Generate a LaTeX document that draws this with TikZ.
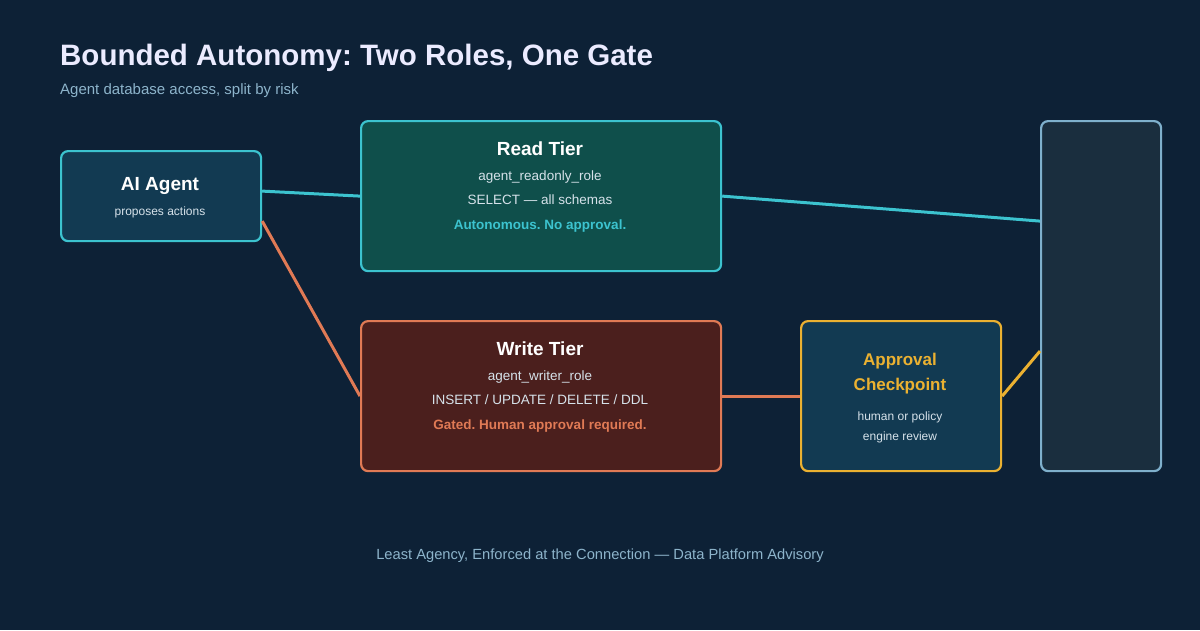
\documentclass[tikz,border=0pt]{standalone}
\usepackage{fontspec}
\setmainfont{Liberation Sans}
\frenchspacing
\begin{document}
\frenchspacing
\definecolor{bg}{HTML}{0D2136}
\definecolor{cyanl}{HTML}{3CC3CF}
\definecolor{orng}{HTML}{E07A55}
\definecolor{yel}{HTML}{EBB131}
\definecolor{boxb}{HTML}{123A52}
\definecolor{teal}{HTML}{0F4F4B}
\definecolor{wred}{HTML}{4B1F1D}
\definecolor{gray1}{HTML}{1A2E3E}
\definecolor{gstroke}{HTML}{7FB0CC}
\definecolor{sub}{HTML}{8DB4CB}
\definecolor{txt}{HTML}{D6E2EA}
\begin{tikzpicture}[x=1pt,y=-1pt,
  box/.style={draw,line width=2.2pt,rounded corners=7pt,anchor=north west,inner sep=0pt},
  ttl/.style={font=\bfseries\fontsize{19}{22}\selectfont,text=white},
  lbl/.style={font=\fontsize{13.5}{16}\selectfont,text=txt},
  sml/.style={font=\fontsize{12}{14}\selectfont,text=txt},
  conn/.style={line width=3pt}]
\fill[bg] (0,0) rectangle (1200,630);
\useasboundingbox (0,0) rectangle (1200,630);
\node[anchor=base west,font=\bfseries\fontsize{29.5}{34}\selectfont,text=white!92!blue,inner sep=0] (title) at (60,65) {Bounded Autonomy: Two Roles, One Gate};
\node[anchor=base west,font=\fontsize{15}{18}\selectfont,text=sub,inner sep=0] (subt) at (60,94) {Agent database access, split by risk};

\node[box,draw=cyanl,fill=boxb,minimum width=200,minimum height=90] (agent) at (60,150) {};
\node[box,draw=cyanl,fill=teal,minimum width=360,minimum height=150] (read) at (360,120) {};
\node[box,draw=orng,fill=wred,minimum width=360,minimum height=150] (write) at (360,320) {};
\node[box,draw=yel,fill=boxb,minimum width=200,minimum height=150] (appr) at (800,320) {};
\node[box,draw=gstroke,fill=gray1,minimum width=120,minimum height=350] (right) at (1040,120) {};

\draw[conn,cyanl] ([yshift=5]agent.east) -- (read.west);
\draw[conn,orng] ([yshift=-25]agent.east) -- (write.west);
\draw[conn,cyanl] (read.east) -- ([yshift=75]right.west);
\draw[conn,orng] (write.east) -- (appr.east -| appr.west);
\draw[conn,yel] (appr.east) -- ([yshift=-55]right.west);

\node[ttl,anchor=base] (t1) at (160,190) {AI Agent};
\node[sml,anchor=base] (t2) at (160,215) {proposes actions};

\node[ttl,anchor=base] (r1) at (540,155) {Read Tier};
\node[lbl,anchor=base] (r2) at (540,180) {agent\_readonly\_role};
\node[lbl,anchor=base] (r3) at (540,204) {SELECT — all schemas};
\node[lbl,anchor=base,font=\bfseries\fontsize{13.5}{16}\selectfont,text=cyanl] (r4) at (540,229) {Autonomous. No approval.};

\node[ttl,anchor=base] (w1) at (540,355) {Write Tier};
\node[lbl,anchor=base] (w2) at (540,380) {agent\_writer\_role};
\node[lbl,anchor=base] (w3) at (540,404) {INSERT / UPDATE / DELETE / DDL};
\node[lbl,anchor=base,font=\bfseries\fontsize{13.5}{16}\selectfont,text=orng] (w4) at (540,429) {Gated. Human approval required.};

\node[anchor=base,font=\bfseries\fontsize{17}{20}\selectfont,text=yel] (a1) at (900,365) {Approval};
\node[anchor=base,font=\bfseries\fontsize{17}{20}\selectfont,text=yel] (a2) at (900,390) {Checkpoint};
\node[sml,anchor=base] (a3) at (900,420) {human or policy};
\node[sml,anchor=base] (a4) at (900,440) {engine review};

\node[anchor=base,font=\fontsize{14.7}{17}\selectfont,text=sub] (foot) at (600,559) {Least Agency, Enforced at the Connection — Data Platform Advisory};
\end{tikzpicture}
\end{document}
